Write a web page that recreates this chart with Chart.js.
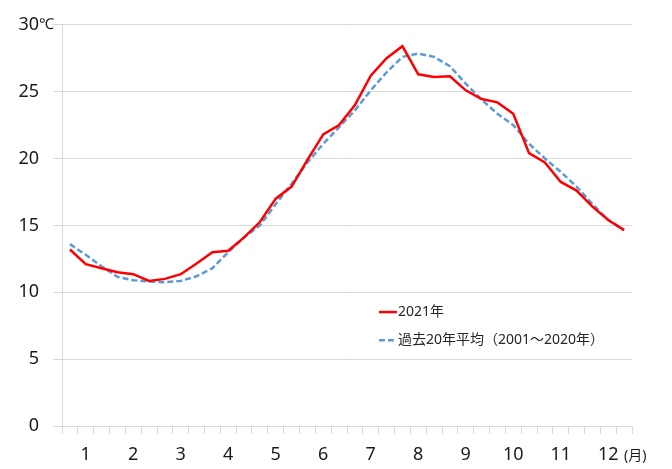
<!DOCTYPE html>
<html>
<head>
<meta charset="utf-8">
<script src="https://cdn.jsdelivr.net/npm/chart.js@4/dist/chart.umd.min.js"></script>
<style>
  html, body { margin: 0; padding: 0; background: #fff; }
  #wrap { width: 672px; height: 469px; }
</style>
</head>
<body>
<div id="wrap"><canvas id="chart"></canvas></div>
<script>
// 旬ごとの平均気温（上旬・中旬・下旬 × 12か月）
const monthLabels = ['1', '2', '3', '4', '5', '6', '7', '8', '9', '10', '11', '12'];

const temp2021 = [
    13.2, 12.1, 11.8, 11.5, 11.35, 10.85, 11.0, 11.35, 12.15,
    13.0, 13.1, 14.1, 15.25, 17.0, 17.9, 19.9, 21.8, 22.5,
    24.0, 26.2, 27.5, 28.4, 26.3, 26.1, 26.15, 25.1, 24.45,
    24.2, 23.35, 20.4, 19.7, 18.25, 17.6, 16.4, 15.4, 14.65
];

const tempAvg = [
    13.6, 12.8, 11.95, 11.15, 10.9, 10.8, 10.75, 10.85, 11.2,
    11.8, 13.0, 14.1, 15.0, 16.6, 18.1, 19.7, 21.1, 22.35,
    23.6, 25.1, 26.45, 27.6, 27.85, 27.6, 26.9, 25.6, 24.4,
    23.35, 22.5, 21.1, 20.0, 19.0, 17.9, 16.6, 15.4, 14.65
];

const seriesNames = ['2021年', '過去20年平均（2001～2020年）'];
const yUnit = '℃';
const xUnit = '(月)';

// 各月の中旬に月番号を置く
const labels = monthLabels.flatMap(m => ['', m, '']);

const FONT = "'Noto Sans', 'Noto Sans CJK JP', sans-serif";
const GRID = '#d9d9d9';

const extrasPlugin = {
    id: 'extras',
    afterDraw: (chart) => {
        const ctx = chart.ctx;
        const area = chart.chartArea;
        const y = chart.scales.y;

        ctx.save();
        ctx.fillStyle = '#1a1a1a';
        ctx.textBaseline = 'middle';

        // 単位 ℃
        ctx.font = '15px ' + FONT;
        ctx.textAlign = 'left';
        ctx.fillText(yUnit, area.left - 23, y.getPixelForValue(30));

        // 単位 (月)
        ctx.font = '14px ' + FONT;
        ctx.fillText(xUnit, area.right - 8, 456);

        // 凡例
        const lx = area.left + area.width * 0.556;
        const rows = [area.top + area.height * 0.716, area.top + area.height * 0.786];
        chart.data.datasets.forEach((ds, i) => {
            const ly = rows[i];
            ctx.beginPath();
            ctx.setLineDash(ds.borderDash || []);
            ctx.lineWidth = ds.borderWidth;
            ctx.strokeStyle = ds.borderColor;
            ctx.moveTo(lx, ly);
            ctx.lineTo(lx + 18, ly);
            ctx.stroke();
            ctx.setLineDash([]);
            ctx.font = '14px ' + FONT;
            ctx.fillStyle = '#262626';
            ctx.fillText(ds.label, lx + 19, ly);
        });
        ctx.restore();
    }
};

new Chart(document.getElementById('chart'), {
    type: 'line',
    data: {
        labels: labels,
        datasets: [
            {
                label: seriesNames[0],
                data: temp2021,
                borderColor: '#ff0000',
                borderWidth: 2.5,
                pointRadius: 0,
                tension: 0,
                fill: false
            },
            {
                label: seriesNames[1],
                data: tempAvg,
                borderColor: '#5b9bd5',
                borderWidth: 2.5,
                borderDash: [6, 3],
                pointRadius: 0,
                tension: 0,
                fill: false
            }
        ]
    },
    options: {
        responsive: true,
        maintainAspectRatio: false,
        animation: false,
        layout: { padding: { top: 24, right: 40, left: 0, bottom: 0 } },
        plugins: {
            legend: { display: false },
            tooltip: { enabled: false }
        },
        scales: {
            x: {
                offset: true,
                grid: {
                    offset: true,
                    drawOnChartArea: false,
                    drawTicks: true,
                    tickLength: 8,
                    color: GRID
                },
                border: { color: GRID },
                ticks: {
                    autoSkip: false,
                    maxRotation: 0,
                    padding: 10,
                    color: '#1a1a1a',
                    font: { family: FONT, size: 18 }
                },
                afterFit: (s) => { s.height = 43; }
            },
            y: {
                min: 0,
                max: 30,
                grid: { color: GRID, tickLength: 9 },
                border: { color: GRID },
                ticks: {
                    stepSize: 5,
                    padding: 14,
                    color: '#1a1a1a',
                    font: { family: FONT, size: 18 }
                },
                afterFit: (s) => { s.width = 62; }
            }
        }
    },
    plugins: [extrasPlugin]
});
</script>
</body>
</html>
